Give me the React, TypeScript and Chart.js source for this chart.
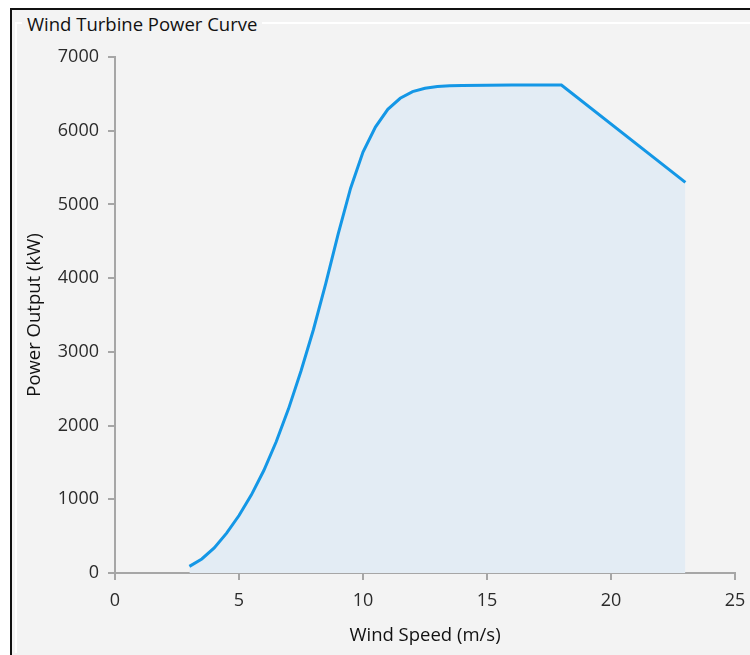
import React, { useEffect, useRef } from "react";
import { Chart, registerables } from "chart.js";

Chart.register(...registerables);

const windSpeeds = [3, 3.5, 4, 4.5, 5, 5.5, 6, 6.5, 7, 7.5, 8, 8.5, 9, 9.5, 10, 10.5, 11, 11.5, 12, 12.5, 13, 13.5, 14, 15, 16, 17, 18, 23];
const powerOutput = [90, 190, 340, 540, 780, 1060, 1390, 1780, 2230, 2740, 3300, 3930, 4600, 5220, 5710, 6050, 6290, 6440, 6530, 6575, 6600, 6610, 6615, 6618, 6620, 6620, 6620, 5300];

const chartTitle = "Wind Turbine Power Curve";
const xTitle = "Wind Speed (m/s)";
const yTitle = "Power Output (kW)";

const FONT = "'Open Sans', 'Noto Sans', sans-serif";

export default function App() {
  const ref = useRef<HTMLCanvasElement | null>(null);

  useEffect(() => {
    if (!ref.current) return;
    const axisColor = "#a6a6a6";
    const chart = new Chart(ref.current, {
      type: "line",
      data: {
        datasets: [
          {
            data: windSpeeds.map((x, i) => ({ x, y: powerOutput[i] })),
            borderColor: "#1497e6",
            backgroundColor: "#e3ecf4",
            borderWidth: 3,
            fill: "origin",
            pointRadius: 0,
            tension: 0,
          },
        ],
      },
      options: {
        animation: false,
        responsive: false,
        devicePixelRatio: 1,
        layout: { padding: { left: 20, top: 57, right: 15, bottom: 4 } },
        plugins: { legend: { display: false }, tooltip: { enabled: false } },
        scales: {
          x: {
            type: "linear",
            min: 0,
            max: 25,
            afterFit: (s: any) => { s.height = 78; s.paddingRight = 0; s.paddingLeft = 0; },
            ticks: { stepSize: 5, color: "#2b2b2b", font: { family: FONT, size: 18 }, padding: 10, callback: (v: any) => String(v) },
            grid: { drawOnChartArea: false, drawTicks: true, tickLength: 7, color: axisColor, lineWidth: 2 },
            border: { display: true, color: axisColor, width: 2 },
            title: { display: true, text: xTitle, color: "#111", font: { family: FONT, size: 18.5 }, padding: 4 },
          },
          y: {
            min: 0,
            max: 7000,
            afterFit: (s: any) => { s.width = 95; s.paddingTop = 0; s.paddingBottom = 0; },
            ticks: { stepSize: 1000, color: "#2b2b2b", font: { family: FONT, size: 18 }, padding: 9, callback: (v: any) => String(v) },
            grid: { drawOnChartArea: false, drawTicks: true, tickLength: 7, color: axisColor, lineWidth: 2 },
            border: { display: true, color: axisColor, width: 2 },
            title: { display: true, text: yTitle, color: "#111", font: { family: FONT, size: 18.5 }, padding: 4 },
          },
        },
      },
    });
    return () => chart.destroy();
  }, []);

  return (
    <div style={{ position: "fixed", left: 0, top: 0, width: 750, height: 655, background: "#fff", overflow: "hidden" }}>
      <div style={{ position: "absolute", left: 10, top: 8, right: 0, bottom: 0, borderLeft: "2px solid #111", borderTop: "2px solid #111", background: "#f3f3f3" }} />
      <div style={{ position: "absolute", left: 15, top: 22, right: 0, bottom: 2, borderLeft: "2px solid #fff", borderTop: "2px solid #fff" }} />
      <div style={{ position: "absolute", left: 22, top: 12, padding: "0 5px", background: "#f3f3f3", fontFamily: FONT, fontSize: 18.5, lineHeight: "24px", color: "#111", whiteSpace: "nowrap" }}>
        {chartTitle}
      </div>
      <canvas ref={ref} width={750} height={655} style={{ position: "absolute", left: 0, top: 0, width: 750, height: 655 }} />
    </div>
  );
}
